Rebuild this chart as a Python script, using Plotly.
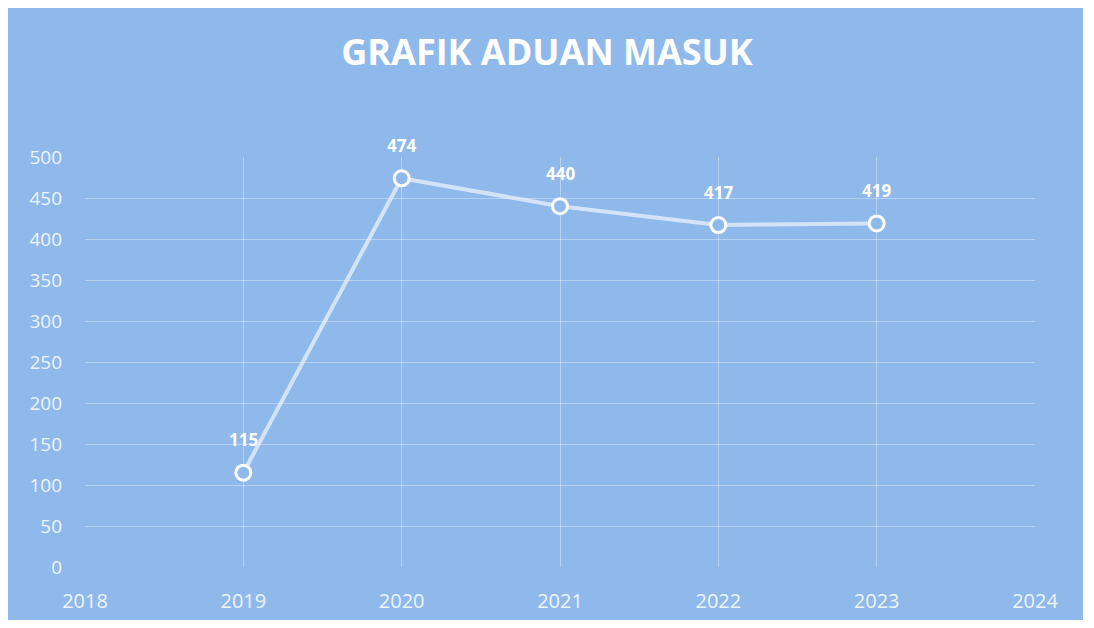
import plotly.graph_objects as go

years = [2019, 2020, 2021, 2022, 2023]
values = [115, 474, 440, 417, 419]
x_ticks = [2018, 2019, 2020, 2021, 2022, 2023, 2024]
y_ticks = [0, 50, 100, 150, 200, 250, 300, 350, 400, 450, 500]
title = "GRAFIK ADUAN MASUK"

BG = "#8fb9eb"
OFF = 8  # page body margin
W, H = 1094 - 2 * OFF, 628 - 2 * OFF
# target page coords of plot area: left 85, right 1035, top 157, bottom 567
ml, mt = 85 - OFF, 157 - OFF
mr = W - (1035 - OFF)
mb = H - (567 - OFF)
pw, ph = W - ml - mr, H - mt - mb

fig = go.Figure()
fig.add_trace(go.Scatter(
    x=years, y=values, mode="lines+markers",
    line=dict(color="rgba(235,243,252,0.75)", width=4),
    marker=dict(size=15, color=BG, line=dict(color="white", width=3)),
    cliponaxis=False, hoverinfo="skip",
))

for xv, yv in zip(years, values):
    fig.add_annotation(x=xv, y=yv, text=f"<b>{yv}</b>", showarrow=False,
                       yshift=33, font=dict(color="white", size=17, family="Open Sans"))

fig.update_layout(
    width=W, height=H,
    margin=dict(l=ml, r=mr, t=mt, b=mb, autoexpand=False),
    paper_bgcolor="white", plot_bgcolor=BG,
    showlegend=False,
    title=dict(text=f"<b>{title}</b>", x=0.5, xanchor="center",
               y=1 - (52 - OFF) / H, yanchor="middle",
               font=dict(color="white", size=36, family="Open Sans")),
    xaxis=dict(range=[2018, 2024], tickvals=x_ticks, ticktext=[str(t) for t in x_ticks],
               showgrid=True, gridcolor="rgba(255,255,255,0.35)", gridwidth=1,
               zeroline=False, showline=False, ticks="", automargin=False,
               tickfont=dict(color="#eef4fc", size=20, family="Open Sans"), ticklabelstandoff=20),
    yaxis=dict(range=[0, 500], tickvals=y_ticks, ticktext=[str(t) for t in y_ticks],
               showgrid=True, gridcolor="rgba(255,255,255,0.35)", gridwidth=1,
               zeroline=False, showline=False, ticks="", automargin=False,
               tickfont=dict(color="#eef4fc", size=19, family="Open Sans"), ticklabelstandoff=22),
)

fig.add_shape(type="rect", xref="paper", yref="paper",
              x0=(8 - 85) / pw, x1=(1083 - 85) / pw,
              y0=-(620 - 567) / ph, y1=1 + (157 - 5) / ph,
              fillcolor=BG, line=dict(width=0), layer="below")

fig.write_html("out.html")
